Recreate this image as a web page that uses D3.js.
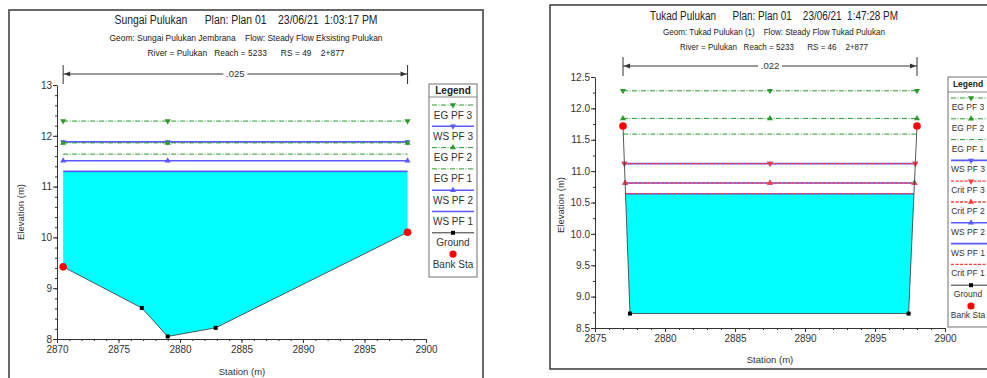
<!DOCTYPE html>
<html>
<head>
<meta charset="utf-8">
<script src="https://cdn.jsdelivr.net/npm/d3@7"></script>
<style>
  body { margin: 0; background: #fff; }
  svg { display: block; font-family: "Liberation Sans", Arial, sans-serif; }
</style>
</head>
<body>
<svg width="987" height="378"></svg>
<script>
// ---- left cross section (Sungai Pulukan, RS 49)
const leftTitles = [
  "Sungai Pulukan      Plan: Plan 01    23/06/21  1:03:17 PM",
  "Geom: Sungai Pulukan Jembrana    Flow: Steady Flow Eksisting Pulukan",
  "River = Pulukan   Reach = 5233      RS = 49    2+877"
];
const leftManning = ".025";
const leftGroundSta = [2870.5, 2876.9, 2879.0, 2882.9, 2898.5];
const leftGroundElev = [9.42, 8.61, 8.05, 8.22, 10.10];
const leftBankIdx = [0, 4];
const leftProfiles = ["EG PF 3", "WS PF 3", "EG PF 2", "EG PF 1", "WS PF 2", "WS PF 1"];
const leftProfileElev = [12.29, 11.88, 11.86, 11.64, 11.51, 11.30];
const leftMidMark = 2879.0;
const leftXTicks = [2870, 2875, 2880, 2885, 2890, 2895, 2900];
const leftYTicks = [8, 9, 10, 11, 12, 13];

// ---- right cross section (Tukad Pulukan, RS 46)
const rightTitles = [
  "Tukad Pulukan      Plan: Plan 01    23/06/21  1:47:28 PM",
  "Geom: Tukad Pulukan (1)    Flow: Steady Flow Tukad Pulukan",
  "River = Pulukan   Reach = 5233      RS = 46    2+877"
];
const rightManning = ".022";
const rightGroundSta = [2877.0, 2877.5, 2897.4, 2898.0];
const rightGroundElev = [11.72, 8.73, 8.73, 11.72];
const rightBankIdx = [0, 3];
const rightProfiles = ["EG PF 3", "EG PF 2", "EG PF 1", "WS PF 3", "Crit PF 3", "Crit PF 2", "WS PF 2", "WS PF 1", "Crit PF 1"];
const rightProfileElev = [12.28, 11.84, 11.59, 11.12, 11.12, 10.81, 10.81, 10.64, 10.64];
const rightMidMark = 2887.5;
const rightXTicks = [2875, 2880, 2885, 2890, 2895, 2900];
const rightYTicks = [8.5, 9.0, 9.5, 10.0, 10.5, 11.0, 11.5, 12.0, 12.5];

const svg = d3.select("svg");

function styleOf(name) {
  if (name.startsWith("EG")) return { color: "#2a9a2a", dash: "5,1.5,1,1.5", width: 1 };
  if (name.startsWith("WS")) return { color: "#5a5aff", dash: null, width: 1.6 };
  return { color: "#ff3c3c", dash: "3,1.5", width: 1.3 };
}

function markerOf(name) {
  if (name.endsWith("PF 3")) return "down";
  if (name.endsWith("PF 2")) return "up";
  return null;
}

function drawMarker(g, kind, x, y, color) {
  if (!kind) return;
  g.append("path")
    .attr("d", d3.symbol(d3.symbolTriangle).size(16)())
    .attr("transform", "translate(" + x + "," + y + ")" + (kind === "down" ? " rotate(180)" : ""))
    .attr("fill", color);
}

// where a horizontal water line at elevation e meets the ground, from each side
function lineExtent(sta, elev, e) {
  let lo = sta[0], hi = sta[sta.length - 1];
  if (elev[0] > e) {
    for (let i = 0; i < sta.length - 1; i++) {
      if (elev[i] >= e && elev[i + 1] < e) {
        lo = sta[i] + (sta[i + 1] - sta[i]) * (elev[i] - e) / (elev[i] - elev[i + 1]);
        break;
      }
    }
  }
  const n = sta.length - 1;
  if (elev[n] > e) {
    for (let i = n; i > 0; i--) {
      if (elev[i] >= e && elev[i - 1] < e) {
        hi = sta[i] - (sta[i] - sta[i - 1]) * (elev[i] - e) / (elev[i] - elev[i - 1]);
        break;
      }
    }
  }
  return [lo, hi];
}

function drawPanel(p) {
  const x = d3.scaleLinear().domain(p.xDom).range(p.xRange);
  const y = d3.scaleLinear().domain(p.yDom).range(p.yRange);
  const g = svg.append("g");

  // frame
  g.append("rect")
    .attr("x", p.frame[0]).attr("y", p.frame[1])
    .attr("width", p.frame[2]).attr("height", p.frame[3])
    .attr("fill", "none").attr("stroke", "#444").attr("stroke-width", 1.6);

  // titles
  p.titles.forEach((t, i) => {
    g.append("text")
      .attr("x", p.titleX).attr("y", p.titleY[i])
      .attr("text-anchor", "middle")
      .attr("font-size", i === 0 ? 12.5 : 9.5)
      .attr("fill", "#222")
      .style("white-space", "pre")
      .attr("textLength", p.titleW[i])
      .attr("lengthAdjust", "spacingAndGlyphs")
      .text(t);
  });

  // water (lowest WS) fill
  const wsIdx = p.profiles.indexOf("WS PF 1");
  const ws = p.elevs[wsIdx];
  const [wl, wr] = lineExtent(p.sta, p.elev, ws);
  const poly = [[wl, ws]];
  p.sta.forEach((s, i) => { if (s >= wl && s <= wr) poly.push([s, p.elev[i]]); });
  poly.push([wr, ws]);
  g.append("path")
    .attr("d", d3.line().x(d => x(d[0])).y(d => y(d[1]))(poly) + "Z")
    .attr("fill", "#00ffff");

  // axes
  const yMinor = d3.range(p.yDom[0], p.yDom[1] + 1e-9, p.yMinor);
  const xMinor = d3.range(p.xDom[0], p.xDom[1] + 1e-9, 1);
  const ax = g.append("g").attr("color", "#333").attr("font-size", 9.5);
  ax.append("g").attr("transform", "translate(" + p.xRange[0] + ",0)")
    .call(d3.axisLeft(y).tickValues(yMinor).tickSize(2).tickFormat(""))
    .call(s => s.select(".domain").remove());
  ax.append("g").attr("transform", "translate(0," + p.yRange[0] + ")")
    .call(d3.axisBottom(x).tickValues(xMinor).tickSize(2).tickFormat(""))
    .call(s => s.select(".domain").remove());
  ax.append("g").attr("transform", "translate(" + p.xRange[0] + ",0)")
    .call(d3.axisLeft(y).tickValues(p.yTicks).tickSize(4).tickSizeOuter(0).tickPadding(1).tickFormat(p.yFmt))
    .call(s => s.selectAll("text").attr("font-family", "Liberation Sans, Arial").attr("fill", "#333"));
  ax.append("g").attr("transform", "translate(0," + p.yRange[0] + ")")
    .call(d3.axisBottom(x).tickValues(p.xTicks).tickSize(4).tickSizeOuter(0).tickPadding(3).tickFormat(d3.format("d")))
    .call(s => s.selectAll("text").attr("font-family", "Liberation Sans, Arial").attr("fill", "#333"));

  g.append("text")
    .attr("transform", "translate(" + p.yLabel[0] + "," + p.yLabel[1] + ") rotate(-90)")
    .attr("text-anchor", "middle").attr("dy", "0.35em")
    .attr("font-size", 9.5).attr("fill", "#333")
    .text("Elevation (m)");
  g.append("text")
    .attr("x", p.xLabel[0]).attr("y", p.xLabel[1])
    .attr("text-anchor", "middle").attr("dy", "0.35em")
    .attr("font-size", 9.5).attr("fill", "#333")
    .text("Station (m)");

  // manning n dimension arrow between bank stations
  const bl = x(p.sta[p.bank[0]]), br = x(p.sta[p.bank[1]]);
  const ay = p.arrowY;
  const arr = g.append("g").attr("stroke", "#333").attr("fill", "#333");
  arr.append("line").attr("x1", bl).attr("x2", br).attr("y1", ay).attr("y2", ay).attr("stroke-width", 1);
  [bl, br].forEach((bx, k) => {
    arr.append("line").attr("x1", bx).attr("x2", bx).attr("y1", ay - 9).attr("y2", ay + 10).attr("stroke-width", 1);
    const d = k === 0 ? 1 : -1;
    arr.append("path")
      .attr("d", "M" + (bx + d) + "," + ay + "L" + (bx + d * 7) + "," + (ay - 2.5) + "L" + (bx + d * 7) + "," + (ay + 2.5) + "Z")
      .attr("stroke", "none");
  });
  const mid = (bl + br) / 2;
  g.append("rect").attr("x", mid - 12).attr("y", ay - 6).attr("width", 24).attr("height", 12).attr("fill", "#fff");
  g.append("text").attr("x", mid).attr("y", ay).attr("dy", "0.35em")
    .attr("text-anchor", "middle").attr("font-size", 9.5).attr("fill", "#333")
    .text(p.manning);

  // profile lines: WS first, then Crit, then EG on top
  const order = d3.range(p.profiles.length).sort((a, b) => {
    const rank = n => n.startsWith("WS") ? 0 : n.startsWith("Crit") ? 1 : 2;
    return rank(p.profiles[a]) - rank(p.profiles[b]);
  });
  order.forEach(i => {
    const name = p.profiles[i], e = p.elevs[i], st = styleOf(name);
    const [lo, hi] = lineExtent(p.sta, p.elev, e);
    g.append("line")
      .attr("x1", x(lo)).attr("x2", x(hi)).attr("y1", y(e)).attr("y2", y(e))
      .attr("stroke", st.color).attr("stroke-width", st.width)
      .attr("stroke-dasharray", st.dash);
    [lo, p.midMark, hi].forEach(s => drawMarker(g, markerOf(name), x(s), y(e), st.color));
  });

  // ground
  const pts = p.sta.map((s, i) => [s, p.elev[i]]);
  g.append("path")
    .attr("d", d3.line().x(d => x(d[0])).y(d => y(d[1]))(pts))
    .attr("fill", "none").attr("stroke", "#444").attr("stroke-width", 0.9);
  pts.forEach((d, i) => {
    if (p.bank.includes(i)) return;
    g.append("rect").attr("x", x(d[0]) - 2).attr("y", y(d[1]) - 2)
      .attr("width", 4).attr("height", 4).attr("fill", "#000");
  });
  p.bank.forEach(i => {
    g.append("circle").attr("cx", x(p.sta[i])).attr("cy", y(p.elev[i])).attr("r", 3.8).attr("fill", "#ff0000");
  });

  // legend
  const L = p.legend;
  const items = p.profiles.concat(["Ground", "Bank Sta"]);
  const lg = g.append("g");
  lg.append("rect").attr("x", L.x).attr("y", L.y).attr("width", L.w).attr("height", L.h)
    .attr("fill", "#fff").attr("stroke", "#888").attr("stroke-width", 1.2);
  lg.append("line").attr("x1", L.x).attr("x2", L.x + L.w).attr("y1", L.y + L.head).attr("y2", L.y + L.head)
    .attr("stroke", "#888");
  const cx = L.x + L.w / 2;
  lg.append("text").attr("x", L.tx).attr("y", L.y + L.head / 2).attr("dy", "0.35em")
    .attr("text-anchor", "middle").attr("font-size", L.font).attr("font-weight", "bold").attr("fill", "#222")
    .text("Legend");
  items.forEach((name, i) => {
    const ly = L.first + i * L.step;
    if (name === "Ground") {
      lg.append("line").attr("x1", L.x + 3).attr("x2", L.x + L.w - 3).attr("y1", ly).attr("y2", ly).attr("stroke", "#333");
      lg.append("rect").attr("x", cx - 2).attr("y", ly - 2).attr("width", 4).attr("height", 4).attr("fill", "#000");
    } else if (name === "Bank Sta") {
      lg.append("circle").attr("cx", cx).attr("cy", ly).attr("r", 3.6).attr("fill", "#ff0000");
    } else {
      const st = styleOf(name);
      lg.append("line").attr("x1", L.x + 3).attr("x2", L.x + L.w - 3).attr("y1", ly).attr("y2", ly)
        .attr("stroke", st.color).attr("stroke-width", st.width).attr("stroke-dasharray", st.dash);
      drawMarker(lg, markerOf(name), cx, ly, st.color);
    }
    lg.append("text").attr("x", L.tx).attr("y", ly + L.gap).attr("dy", "0.35em")
      .attr("text-anchor", "middle").attr("font-size", L.font).attr("fill", "#333")
      .text(name);
  });
}

drawPanel({
  titles: leftTitles, manning: leftManning,
  sta: leftGroundSta, elev: leftGroundElev, bank: leftBankIdx,
  profiles: leftProfiles, elevs: leftProfileElev, midMark: leftMidMark,
  xTicks: leftXTicks, yTicks: leftYTicks, yFmt: d3.format("d"), yMinor: 0.2,
  xDom: [2870, 2900], xRange: [57, 426], yDom: [8, 13], yRange: [339, 85],
  frame: [9, 10, 474, 420],
  titleX: 246, titleY: [24, 41, 56], titleW: [263, 273, 197],
  arrowY: 74, yLabel: [21, 212], xLabel: [242, 372],
  legend: { x: 429, y: 84, w: 48, h: 193, head: 13, first: 105, step: 21.3, gap: 10, font: 10, tx: 453 }
});

drawPanel({
  titles: rightTitles, manning: rightManning,
  sta: rightGroundSta, elev: rightGroundElev, bank: rightBankIdx,
  profiles: rightProfiles, elevs: rightProfileElev, midMark: rightMidMark,
  xTicks: rightXTicks, yTicks: rightYTicks, yFmt: d3.format(".1f"), yMinor: 0.25,
  xDom: [2875, 2900], xRange: [595, 945], yDom: [8.5, 12.5], yRange: [328, 77],
  frame: [550, 5, 500, 364],
  titleX: 774, titleY: [20, 35, 50], titleW: [248, 222, 188],
  arrowY: 66, yLabel: [561, 205], xLabel: [770, 360],
  legend: { x: 948, y: 77, w: 46, h: 250, head: 15, first: 98, step: 20.8, gap: 9, font: 8.5, tx: 968 }
});
</script>
</body>
</html>
